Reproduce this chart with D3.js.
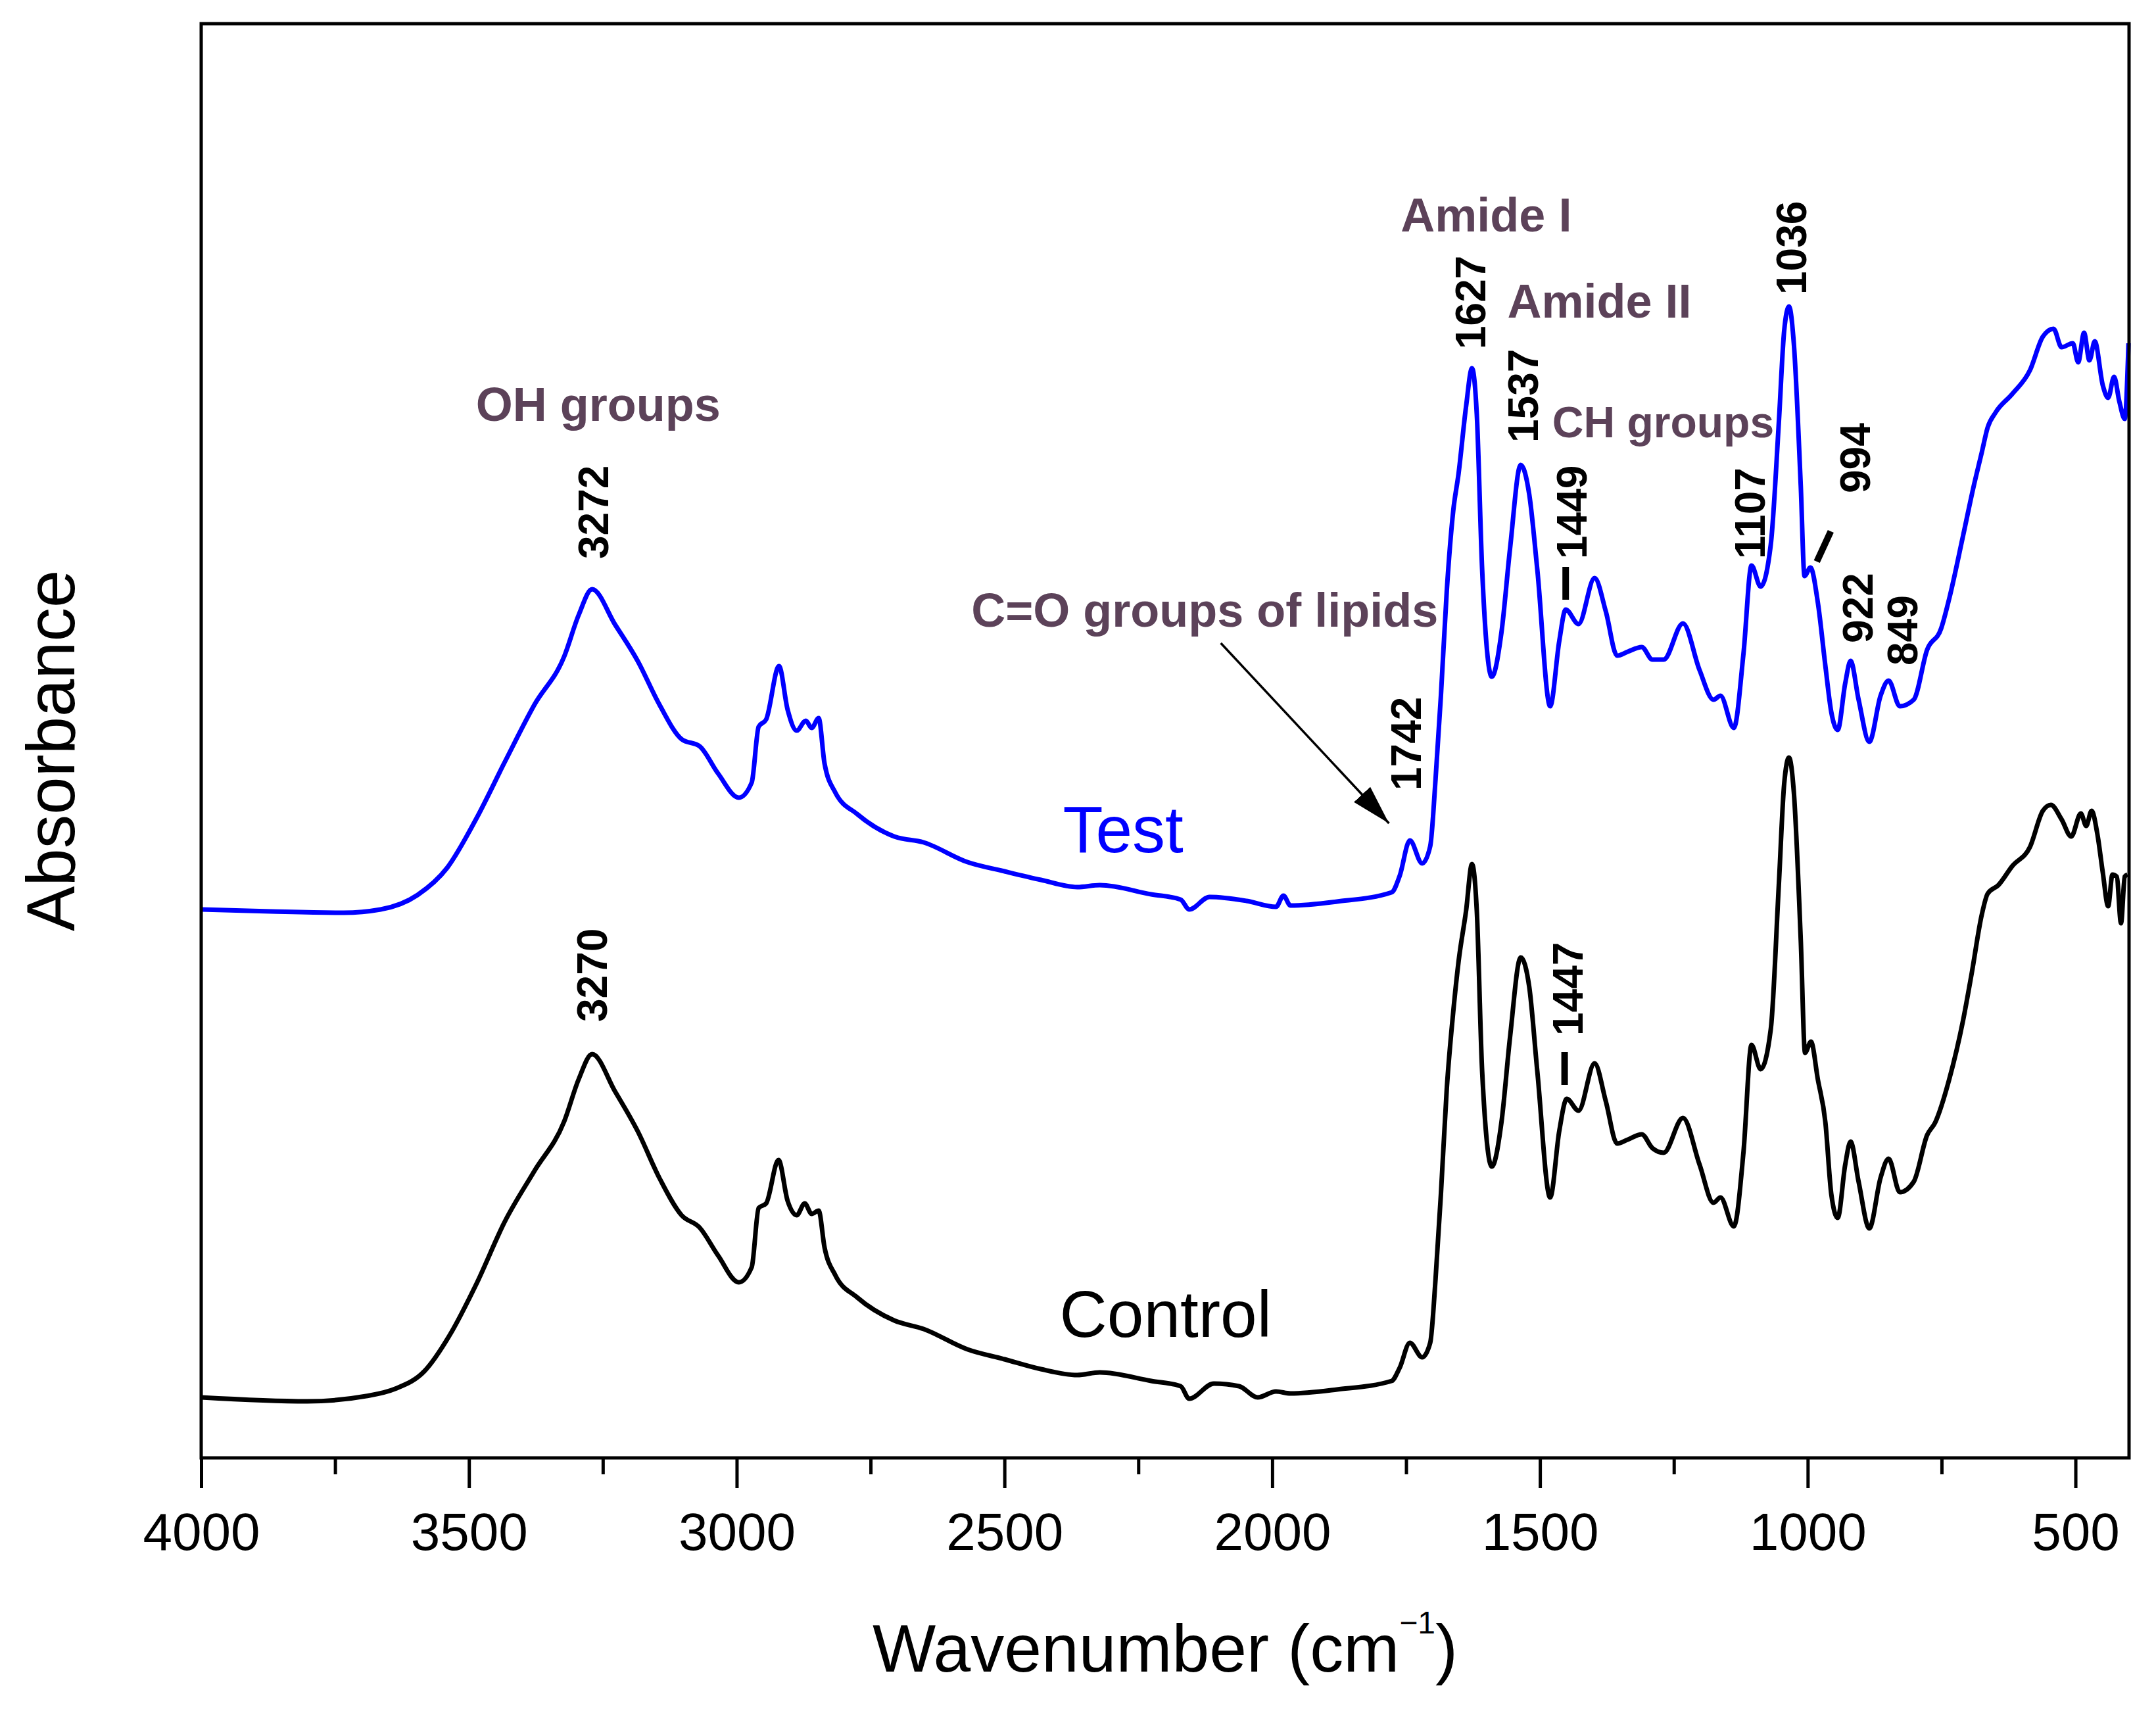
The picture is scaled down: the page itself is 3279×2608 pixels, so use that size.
<!DOCTYPE html>
<html>
<head>
<meta charset="utf-8">
<style>
  body { margin: 0; background: #fff; }
  svg text { font-family: "Liberation Sans", Arial, sans-serif; }
</style>
</head>
<body>
<svg id="ftir"></svg>

<script src="https://d3js.org/d3.v7.min.js"></script>
<script>
    // spectra: [wavenumber (cm-1), absorbance (a.u., offset included)]
    var testSpectrum = [
        [4000,0.834],[3870,0.831],[3734,0.829],[3665,0.834],[3596,0.856],[3541,0.897],[3487,0.971],[3432,1.060],
        [3378,1.145],[3322,1.219],[3295,1.282],[3270,1.321],[3227,1.267],[3185,1.212],[3144,1.145],[3103,1.093],
        [3069,1.082],[3035,1.041],[2996,1.004],[2972,1.027],[2959,1.112],[2945,1.123],[2921,1.204],[2905,1.138],
        [2888,1.106],[2871,1.121],[2860,1.110],[2847,1.125],[2836,1.056],[2816,1.012],[2775,0.979],[2706,0.945],
        [2651,0.936],[2569,0.906],[2500,0.892],[2432,0.879],[2364,0.868],[2322,0.871],[2226,0.857],[2171,0.849],
        [2155,0.834],[2117,0.853],[2048,0.847],[1993,0.838],[1979,0.855],[1966,0.840],[1879,0.846],[1777,0.860],
        [1762,0.885],[1743,0.939],[1720,0.904],[1705,0.930],[1695,1.032],[1685,1.159],[1674,1.319],[1662,1.440],
        [1652,1.497],[1638,1.599],[1627,1.657],[1618,1.587],[1608,1.351],[1590,1.188],[1572,1.255],[1556,1.382],
        [1536,1.510],[1520,1.465],[1505,1.351],[1481,1.143],[1464,1.242],[1452,1.290],[1428,1.268],[1398,1.338],
        [1377,1.287],[1356,1.220],[1336,1.226],[1310,1.233],[1290,1.214],[1269,1.214],[1233,1.269],[1202,1.198],
        [1176,1.153],[1163,1.159],[1138,1.110],[1120,1.223],[1105,1.357],[1088,1.325],[1069,1.389],[1054,1.574],
        [1044,1.714],[1035,1.751],[1026,1.695],[1013,1.478],[1006,1.341],[995,1.354],[981,1.300],[967,1.204],
        [956,1.134],[944,1.107],[930,1.178],[920,1.212],[905,1.153],[885,1.089],[864,1.159],[849,1.182],
        [828,1.143],[802,1.153],[777,1.229],[751,1.261],[736,1.306],[710,1.402],[690,1.478],[675,1.529],
        [664,1.567],[649,1.590],[618,1.618],[585,1.654],[561,1.705],[541,1.717],[526,1.689],[505,1.695],
        [495,1.666],[484,1.711],[474,1.669],[464,1.698],[449,1.631],[439,1.612],[428,1.644],[418,1.606],
        [408,1.580],[401,1.695]
    ]

    var controlSpectrum = [
        [4000,0.092],[3802,0.086],[3692,0.094],[3638,0.105],[3583,0.132],[3535,0.188],[3487,0.263],[3432,0.361],
        [3378,0.436],[3322,0.512],[3295,0.576],[3270,0.614],[3227,0.557],[3185,0.497],[3144,0.425],[3103,0.369],
        [3069,0.350],[3035,0.308],[2996,0.267],[2972,0.290],[2959,0.380],[2945,0.387],[2922,0.453],[2905,0.391],
        [2888,0.369],[2873,0.387],[2860,0.371],[2847,0.376],[2836,0.320],[2816,0.278],[2775,0.244],[2706,0.209],
        [2651,0.196],[2569,0.165],[2500,0.150],[2432,0.135],[2364,0.126],[2322,0.130],[2226,0.117],[2171,0.109],
        [2155,0.090],[2109,0.113],[2062,0.109],[2027,0.092],[1993,0.101],[1966,0.098],[1879,0.104],[1777,0.117],
        [1762,0.137],[1743,0.175],[1720,0.153],[1705,0.175],[1695,0.272],[1685,0.401],[1674,0.562],[1662,0.678],
        [1652,0.755],[1638,0.832],[1627,0.903],[1618,0.832],[1608,0.588],[1590,0.443],[1572,0.510],[1556,0.639],
        [1536,0.761],[1520,0.716],[1505,0.588],[1481,0.396],[1464,0.497],[1450,0.546],[1428,0.528],[1398,0.600],
        [1377,0.542],[1356,0.478],[1336,0.484],[1310,0.492],[1290,0.471],[1269,0.464],[1233,0.517],[1202,0.446],
        [1176,0.388],[1163,0.396],[1138,0.352],[1120,0.465],[1105,0.628],[1088,0.591],[1069,0.652],[1054,0.871],
        [1044,1.025],[1035,1.065],[1026,1.013],[1013,0.787],[1005,0.616],[994,0.633],[981,0.575],[967,0.510],
        [956,0.401],[944,0.365],[930,0.446],[920,0.481],[905,0.420],[885,0.349],[864,0.426],[849,0.455],
        [828,0.404],[802,0.420],[777,0.491],[762,0.510],[736,0.575],[710,0.665],[694,0.736],[675,0.826],
        [664,0.858],[644,0.871],[618,0.900],[585,0.929],[561,0.984],[546,0.993],[526,0.971],[508,0.945],
        [490,0.980],[480,0.961],[470,0.984],[459,0.948],[449,0.890],[439,0.839],[431,0.887],[423,0.884],
        [415,0.813],[408,0.884],[403,0.887]
    ]

    var majorTicks = [4000, 3500, 3000, 2500, 2000, 1500, 1000, 500]
    var minorTicks = [3750, 3250, 2750, 2250, 1750, 1250, 750]

    // rotated peak positions: [label, wavenumber, absorbance where the text starts]
    var peakLabels = [
        ["3272", 3268, 1.367], ["1742", 1750, 1.015], ["1627", 1630, 1.686], ["1537", 1531, 1.544],
        ["1449", 1440, 1.367], ["1107", 1108, 1.367], ["1036", 1030, 1.769], ["994", 911, 1.467],
        ["922", 906, 1.239], ["849", 823, 1.205], ["3270", 3270, 0.663], ["1447", 1448, 0.642]
    ]
    // short leader marks: [w1, a1, w2, a2]
    var peakMarks = [
        [1452, 1.355, 1452, 1.305], [957, 1.409, 983, 1.363], [1454, 0.617, 1454, 0.567]
    ]
    // band assignments: [text, wavenumber of left edge, baseline absorbance, font size]
    var bandLabels = [
        ["OH groups", 3487, 1.577, 72], ["Amide I", 1760, 1.865, 72], ["Amide II", 1561, 1.734, 72],
        ["CH groups", 1477, 1.552, 66], ["C=O groups of lipids", 2562, 1.264, 72]
    ]
    var seriesNames = [["Test", 2391, 0.921], ["Control", 2397, 0.184]]
    var arrowPath = [[2096, 1.239], [1782, 0.965]]

    var width = 3279, height = 2608
    var svg = d3.select("#ftir").attr("width", width).attr("height", height)
    svg.append("rect").attr("width", width).attr("height", height).attr("fill", "#fff")

    var x = d3.scaleLinear().domain([4000, 400]).range([306, 3238])
    var y = d3.scaleLinear().domain([0, 2.181]).range([2217, 36])

    var line = d3.line()
        .x(function(d) { return x(d[0]) })
        .y(function(d) { return y(d[1]) })
        .curve(d3.curveMonotoneX)

    svg.append("path").datum(controlSpectrum)
        .attr("d", line).attr("fill", "none").attr("stroke", "#000")
        .attr("stroke-width", 7).attr("stroke-linejoin", "round")
    svg.append("path").datum(testSpectrum)
        .attr("d", line).attr("fill", "none").attr("stroke", "#0000ff")
        .attr("stroke-width", 7).attr("stroke-linejoin", "round")

    // frame
    svg.append("rect")
        .attr("x", x(4000)).attr("y", y(2.181))
        .attr("width", x(400) - x(4000)).attr("height", y(0) - y(2.181))
        .attr("fill", "none").attr("stroke", "#000").attr("stroke-width", 5)

    var gx = svg.append("g").attr("transform", "translate(0," + y(0) + ")")
        .call(d3.axisBottom(x).tickValues(majorTicks).tickSize(46).tickPadding(37).tickFormat(d3.format("d")))
    gx.select(".domain").remove()
    gx.selectAll(".tick line").attr("stroke-width", 5)
    gx.selectAll(".tick text").attr("font-size", 80).attr("fill", "#000")
        .style("font-family", "'Liberation Sans', Arial, sans-serif")

    var gm = svg.append("g").attr("transform", "translate(0," + y(0) + ")")
        .call(d3.axisBottom(x).tickValues(minorTicks).tickSize(25).tickFormat(""))
    gm.select(".domain").remove()
    gm.selectAll(".tick line").attr("stroke-width", 5)

    // axis titles
    var xt = svg.append("text")
        .attr("x", (x(4000) + x(400)) / 2).attr("y", 2542)
        .attr("text-anchor", "middle").attr("font-size", 102)
    xt.append("tspan").text("Wavenumber (cm")
    xt.append("tspan").attr("font-size", 48).attr("dy", -58).text("\u22121")
    xt.append("tspan").attr("dy", 58).text(")")

    svg.append("text")
        .attr("transform", "translate(113," + ((y(0) + y(2.181)) / 2 + 15) + ") rotate(-90)")
        .attr("text-anchor", "middle").attr("font-size", 103)
        .text("Absorbance")

    // peak labels
    svg.selectAll(".peak").data(peakLabels).enter().append("text")
        .attr("class", "peak")
        .attr("transform", function(d) { return "translate(" + x(d[1]) + "," + y(d[2]) + ") rotate(-90)" })
        .attr("dy", "0.35em").attr("font-size", 64).attr("font-weight", "bold")
        .text(function(d) { return d[0] })

    svg.selectAll(".mark").data(peakMarks).enter().append("line")
        .attr("x1", function(d) { return x(d[0]) }).attr("y1", function(d) { return y(d[1]) })
        .attr("x2", function(d) { return x(d[2]) }).attr("y2", function(d) { return y(d[3]) })
        .attr("stroke", "#000").attr("stroke-width", 10)

    svg.selectAll(".band").data(bandLabels).enter().append("text")
        .attr("x", function(d) { return x(d[1]) }).attr("y", function(d) { return y(d[2]) })
        .attr("font-size", function(d) { return d[3] }).attr("font-weight", "bold").attr("fill", "#5c4259")
        .text(function(d) { return d[0] })

    svg.selectAll(".series").data(seriesNames).enter().append("text")
        .attr("x", function(d) { return x(d[1]) }).attr("y", function(d) { return y(d[2]) })
        .attr("font-size", 100)
        .attr("fill", function(d, i) { return i === 0 ? "#0000ff" : "#000" })
        .text(function(d) { return d[0] })

    // arrow to the C=O band
    svg.append("defs").append("marker")
        .attr("id", "head").attr("markerUnits", "userSpaceOnUse")
        .attr("markerWidth", 62).attr("markerHeight", 40)
        .attr("refX", 60).attr("refY", 20).attr("orient", "auto")
      .append("path").attr("d", "M0,3 L60,20 L0,37 Z").attr("fill", "#000")

    svg.append("line")
        .attr("x1", x(arrowPath[0][0])).attr("y1", y(arrowPath[0][1]))
        .attr("x2", x(arrowPath[1][0])).attr("y2", y(arrowPath[1][1]))
        .attr("stroke", "#000").attr("stroke-width", 3.5)
        .attr("marker-end", "url(#head)")
</script>
</body>
</html>
